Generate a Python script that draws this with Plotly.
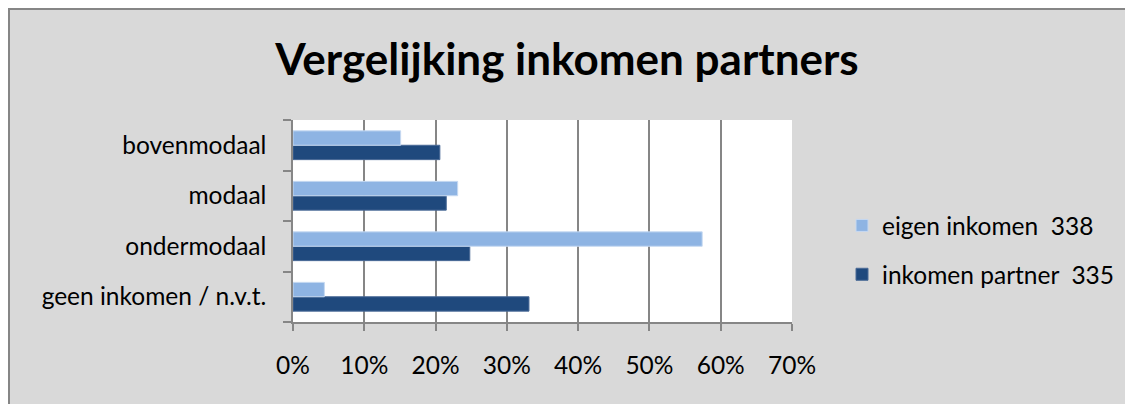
import plotly.graph_objects as go

# ---- data ----
categories = ["geen inkomen / n.v.t.", "ondermodaal", "modaal", "bovenmodaal"]
eigen_inkomen = [0.044, 0.574, 0.231, 0.151]
inkomen_partner = [0.331, 0.248, 0.215, 0.206]
series_names = ["eigen inkomen  338", "inkomen partner  335"]
x_tick_values = [0, 0.1, 0.2, 0.3, 0.4, 0.5, 0.6, 0.7]
title_text = "Vergelijking inkomen partners"

# ---- layout geometry (pixels, figure coordinates; page has an 8px body margin) ----
OFF = 8
W, H = 1133 - OFF, 404 - OFF
L, R = 293 - OFF, 792 - OFF
T, B = 120 - OFF, 322 - OFF
pw, ph = R - L, B - T

def px_x(x):
    return (x - L) / pw

def px_y(y):
    return (B - y) / ph

FONT = "Lato"
GRID = "#868686"
FS = 24.5

fig = go.Figure()
fig.add_trace(go.Bar(
    y=categories, x=inkomen_partner, orientation="h", name=series_names[1],
    legendgroup="p", legendrank=2,
    marker=dict(color="#1F497D", line=dict(color="#4A6A96", width=1)),
))
fig.add_trace(go.Bar(
    y=categories, x=eigen_inkomen, orientation="h", name=series_names[0],
    legendgroup="e", legendrank=1,
    marker=dict(color="#8EB4E3", line=dict(color="#C6D9F1", width=1)),
))

fig.update_layout(
    width=W, height=H,
    margin=dict(l=L, r=W - R, t=T, b=H - B, pad=0),
    paper_bgcolor="#D9D9D9",
    plot_bgcolor="white",
    barmode="group",
    bargap=0.43,
    bargroupgap=0,
    font=dict(family=FONT, color="#000000", size=FS),
    title=dict(
        text="<b>" + title_text + "</b>",
        font=dict(family=FONT, size=44, color="#000000"),
        x=(567 - OFF) / W, xref="container", xanchor="center",
        y=1 - (60 - OFF) / H, yref="container", yanchor="middle",
    ),
    legend=dict(
        x=px_x(842 - OFF), xanchor="left",
        y=px_y(203 - OFF), yanchor="top",
        traceorder="grouped",
        tracegroupgap=14,
        bgcolor="rgba(0,0,0,0)",
        font=dict(family=FONT, size=FS, color="#000000"),
    ),
    xaxis=dict(
        range=[0, 0.7],
        tickvals=x_tick_values,
        tickformat=".0%",
        showgrid=True, gridcolor=GRID, gridwidth=1.5,
        showline=True, linecolor=GRID, linewidth=1.5,
        ticks="outside", ticklen=7, tickcolor=GRID, tickwidth=1.5,
        ticklabelstandoff=14,
        zeroline=False,
        fixedrange=True,
    ),
    yaxis=dict(
        categoryorder="array", categoryarray=categories,
        showline=True, linecolor=GRID, linewidth=1.5,
        ticks="outside", tickson="boundaries", ticklen=8,
        tickcolor=GRID, tickwidth=1.5,
        ticklabelstandoff=20,
        showgrid=False, zeroline=False,
        fixedrange=True,
    ),
    shapes=[
        dict(type="rect", xref="paper", yref="paper", layer="above",
             x0=px_x(1), x1=px_x(W + 20), y0=px_y(H + 20), y1=px_y(1),
             fillcolor="rgba(0,0,0,0)", line=dict(color=GRID, width=2)),
    ],
)

fig.write_html("out.html")
